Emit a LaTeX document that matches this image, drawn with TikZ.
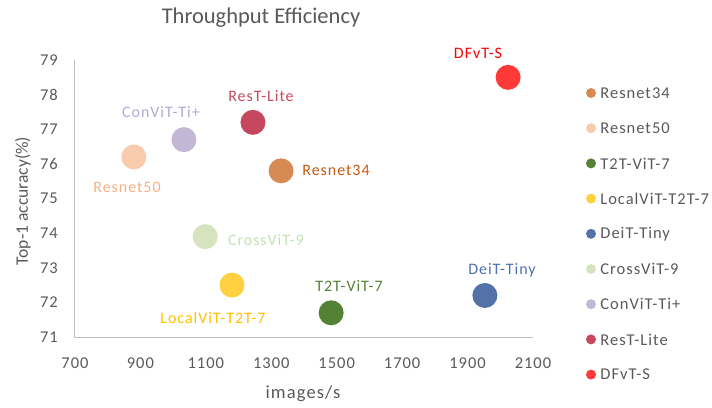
\documentclass[tikz,border=0pt]{standalone}
\usepackage{fontspec}
\setmainfont{Carlito}
\newfontfamily\chartfont{Carlito}[LetterSpace=6]
\usepackage{xcolor}
\usetikzlibrary{positioning}

\definecolor{txtgray}{RGB}{89,89,89}
\definecolor{axisgray}{RGB}{191,191,191}
\definecolor{rsA}{RGB}{214,138,84}    \definecolor{rsAtxt}{RGB}{197,90,17}
\definecolor{rsB}{RGB}{248,203,173}   \definecolor{rsBtxt}{RGB}{244,177,131}
\definecolor{ttt}{RGB}{84,130,53}     \definecolor{ttttxt}{RGB}{84,130,53}
\definecolor{loc}{RGB}{255,208,64}    \definecolor{loctxt}{RGB}{255,192,0}
\definecolor{dei}{RGB}{82,114,168}    \definecolor{deitxt}{RGB}{78,112,176}
\definecolor{crs}{RGB}{214,227,190}   \definecolor{crstxt}{RGB}{197,224,180}
\definecolor{cnv}{RGB}{195,183,213}   \definecolor{cnvtxt}{RGB}{180,167,214}
\definecolor{rst}{RGB}{198,72,95}     \definecolor{rsttxt}{RGB}{198,72,95}
\definecolor{dfv}{RGB}{255,56,56}     \definecolor{dfvtxt}{RGB}{255,0,0}

\tikzset{
  pt/.style={circle, fill=#1, inner sep=0pt, minimum size=25pt},
  legdot/.style={circle, fill=#1, inner sep=0pt, minimum size=10pt},
  lbl/.style={font=\chartfont\fontsize{16}{18}\selectfont, text=#1, inner sep=0pt},
  tick/.style={font=\chartfont\fontsize{16.5}{18}\selectfont, text=txtgray, inner sep=0pt},
}

\begin{document}
\begin{tikzpicture}[x=1pt, y=1pt]
\useasboundingbox (0,0) rectangle (712,407);

\node[font=\fontsize{22.5}{26}\selectfont, text=txtgray] (title) at (261,389) {Throughput Efficiency};

% data frame: images/s vs top-1 accuracy
\begin{scope}[shift={(-154pt,-2388.4pt)}, x=0.32714pt, y=34.625pt]
\coordinate (o) at (700,71);
\coordinate (xe) at (2100,71);
\coordinate (ye) at (700,79);
\draw[axisgray, line width=1pt] (ye) -- (o) -- (xe);

\foreach \v in {71,...,79}
  \node[tick, anchor=east] (yt\v) at ([xshift=-17pt]700,\v) {\v};
\foreach \v in {700,900,...,2100}
  \node[tick] (xt\v) at ([yshift=-26pt]\v,71) {\v};

\node[pt=rsA] (resnet34) at (1330,75.8) {};
\node[pt=rsB] (resnet50) at (880,76.2) {};
\node[pt=ttt] (t2t) at (1483,71.7) {};
\node[pt=loc] (localvit) at (1180,72.5) {};
\node[pt=dei] (deit) at (1953,72.2) {};
\node[pt=crs] (crossvit) at (1098,73.9) {};
\node[pt=cnv] (convit) at (1033,76.7) {};
\node[pt=rst] (restlite) at (1244,77.2) {};
\node[pt=dfv] (dfvt) at (2024,78.5) {};
\end{scope}

% point labels
\node[lbl=rsAtxt] (resnet34-lbl) at (336,237) {Resnet34};
\node[lbl=rsBtxt] (resnet50-lbl) at (127,220) {Resnet50};
\node[lbl=ttttxt] (t2t-lbl) at (349,121) {T2T-ViT-7};
\node[lbl=loctxt] (localvit-lbl) at (213,89) {LocalViT-T2T-7};
\node[lbl=deitxt] (deit-lbl) at (502,137) {DeiT-Tiny};
\node[lbl=crstxt] (crossvit-lbl) at (266,167) {CrossViT-9};
\node[lbl=cnvtxt] (convit-lbl) at (161,295) {ConViT-Ti+};
\node[lbl=rsttxt] (restlite-lbl) at (261,311) {ResT-Lite};
\node[lbl=dfvtxt] (dfvt-lbl) at (478,354) {DFvT-S};

% axis titles
\node[tick, font=\chartfont\fontsize{18.5}{20}\selectfont] (xlabel) at (303,13) {images/s};
\node[tick, font=\fontsize{17.5}{19}\selectfont, rotate=90] (ylabel) at (23,206) {Top-1 accuracy(\%)};

% legend
\foreach \c/\t [count=\i from 0] in {rsA/Resnet34, rsB/Resnet50, ttt/T2T-ViT-7,
    loc/LocalViT-T2T-7, dei/DeiT-Tiny, crs/CrossViT-9, cnv/ConViT-Ti+,
    rst/ResT-Lite, dfv/DFvT-S}{
  \node[legdot=\c] (leg\i) at (591,314-35.2*\i) {};
  \node[tick, anchor=west, right=4pt of leg\i] (legtxt\i) {\t};
}
\end{tikzpicture}
\end{document}
